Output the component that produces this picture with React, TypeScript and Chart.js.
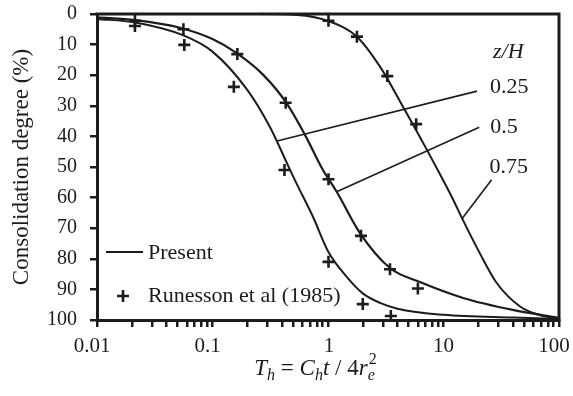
import React, { useEffect, useRef } from 'react';
import { Chart, registerables } from 'chart.js';
Chart.register(...registerables);

// ---- Data ----
const X_TICK_VALUES = [0.01, 0.1, 1, 10, 100];
const X_TICK_LABELS = ['0.01', '0.1', '1', '10', '100'];
const Y_TICK_VALUES = [0, 10, 20, 30, 40, 50, 60, 70, 80, 90, 100];

// Present solution curves (T_h, consolidation degree %)
const CURVE_025_T = [0.01, 0.0215, 0.056, 0.1, 0.2, 0.315, 0.47, 0.536, 0.746, 1.0, 1.46, 2.0, 2.82, 4.0, 10, 40, 100];
const CURVE_025_U = [1.6, 2.8, 7, 12.3, 24.8, 37, 51, 55.5, 66.5, 77.5, 86, 91.3, 94.4, 96.3, 98.3, 99.2, 99.6];

const CURVE_05_T = [0.01, 0.0215, 0.0523, 0.1, 0.162, 0.275, 0.439, 0.632, 0.905, 1.19, 1.89, 3.44, 6.26, 14.8, 39.8, 100];
const CURVE_05_U = [1.1, 2, 4.5, 8.2, 12.8, 19.9, 29.2, 39.5, 51, 58.1, 71.6, 83, 87.6, 92.8, 96.7, 99.3];

const CURVE_075_T = [0.2, 0.54, 1.04, 1.78, 2.82, 4.46, 7.19, 9.7, 12.1, 14.5, 20.7, 29, 46, 68, 100];
const CURVE_075_U = [0, 0.3, 2.5, 7.4, 17.2, 30.3, 44.4, 53.6, 60.6, 66.8, 78.3, 88, 95.6, 98.4, 99.5];

// Runesson et al (1985)
const RUN_025_T = [0.0213, 0.057, 0.153, 0.42, 1.01, 2.0, 3.5];
const RUN_025_U = [3.9, 10.1, 23.8, 51, 81, 94.8, 98.7];
const RUN_05_T = [0.0213, 0.056, 0.164, 0.43, 1.01, 1.93, 3.44, 6.0];
const RUN_05_U = [2.2, 5, 13.1, 29, 54, 72.5, 83.4, 89.7];
const RUN_075_T = [1.01, 1.78, 3.26, 5.8];
const RUN_075_U = [2.2, 7.4, 20.3, 36];

// Leader lines for the z/H labels: [far end, end on curve]
const LEADER_025_T = [19.5, 0.362];
const LEADER_025_U = [25.2, 41.5];
const LEADER_05_T = [20.4, 1.19];
const LEADER_05_U = [37.0, 58.1];
const LEADER_075_T = [26.1, 14.4];
const LEADER_075_U = [54.2, 67.0];
const LEADER_LABELS = ['0.25', '0.5', '0.75'];

const LEGEND_LABELS = ['Present', 'Runesson et al (1985)'];
const Y_TITLE = 'Consolidation degree (%)';

const INK = '#1c1c1c';
const FONT = "'Liberation Serif', 'Times New Roman', serif";

const zip = (xs: number[], ys: number[]) => xs.map((x, i) => ({ x, y: ys[i] }));

export default function App() {
  const ref = useRef<HTMLCanvasElement | null>(null);

  useEffect(() => {
    const canvas = ref.current;
    if (!canvas) return;

    const curve = (xs: number[], ys: number[], w = 2) => ({
      data: zip(xs, ys),
      borderColor: INK,
      borderWidth: w,
      pointRadius: 0,
      fill: false,
      cubicInterpolationMode: 'monotone' as const,
    });
    const marks = (xs: number[], ys: number[]) => ({
      data: zip(xs, ys),
      showLine: false,
      pointStyle: 'cross' as const,
      pointRadius: 6,
      pointBorderWidth: 2.6,
      pointBorderColor: INK,
      borderColor: INK,
    });
    const leader = (xs: number[], ys: number[]) => ({
      data: zip(xs, ys),
      borderColor: INK,
      borderWidth: 1.6,
      pointRadius: 0,
      fill: false,
      tension: 0,
    });

    const overlay = {
      id: 'overlay',
      afterDraw(chart: any) {
        const ctx = chart.ctx as CanvasRenderingContext2D;
        const { left, right, top, bottom } = chart.chartArea;
        const xs = chart.scales.x;
        const ys = chart.scales.y;
        ctx.save();
        // frame top/right
        ctx.strokeStyle = INK;
        ctx.lineWidth = 3;
        ctx.beginPath();
        ctx.moveTo(left - 1.5, top);
        ctx.lineTo(right, top);
        ctx.lineTo(right, bottom + 1.5);
        ctx.stroke();

        ctx.fillStyle = INK;
        // leader labels
        ctx.font = `22px ${FONT}`;
        ctx.textAlign = 'left';
        ctx.textBaseline = 'alphabetic';
        const ends = [
          [LEADER_025_T[0], LEADER_025_U[0], 13, 2],
          [LEADER_05_T[0], LEADER_05_U[0], 11, 6],
          [LEADER_075_T[0], LEADER_075_U[0], -2, -7],
        ];
        ends.forEach((e, i) => {
          const px = xs.getPixelForValue(e[0]);
          const py = ys.getPixelForValue(e[1]);
          ctx.fillText(LEADER_LABELS[i], px + e[2], py + e[3]);
        });
        // z/H
        {
          const px = xs.getPixelForValue(LEADER_025_T[0]) + 16;
          const py = ys.getPixelForValue(LEADER_025_U[0]) - 33;
          ctx.font = `italic 22px ${FONT}`;
          ctx.fillText('z/H', px, py);
        }

        // legend
        ctx.font = `22px ${FONT}`;
        ctx.textBaseline = 'middle';
        ctx.lineWidth = 2;
        ctx.beginPath();
        ctx.moveTo(left + 9, bottom - 68);
        ctx.lineTo(left + 46, bottom - 68);
        ctx.stroke();
        ctx.fillText(LEGEND_LABELS[0], left + 51, bottom - 67);
        ctx.lineWidth = 2.6;
        const cx = left + 26;
        const cy = bottom - 24;
        ctx.beginPath();
        ctx.moveTo(cx - 6, cy);
        ctx.lineTo(cx + 6, cy);
        ctx.moveTo(cx, cy - 6);
        ctx.lineTo(cx, cy + 6);
        ctx.stroke();
        ctx.fillText(LEGEND_LABELS[1], left + 51, bottom - 24);

        // y title
        ctx.save();
        ctx.translate(22, (top + bottom) / 2);
        ctx.rotate(-Math.PI / 2);
        ctx.textAlign = 'center';
        ctx.textBaseline = 'middle';
        ctx.font = `23px ${FONT}`;
        ctx.fillText(Y_TITLE, 0, 0);
        ctx.restore();

        // x title: T_h = C_h t / 4 r_e^2
        const big = 23;
        const small = 16;
        const pieces: { t: string; it: boolean; sz: number; dy: number; adv?: boolean }[] = [
          { t: 'T', it: true, sz: big, dy: 0 },
          { t: 'h', it: true, sz: small, dy: 5 },
          { t: ' = ', it: false, sz: big, dy: 0 },
          { t: 'C', it: true, sz: big, dy: 0 },
          { t: 'h', it: true, sz: small, dy: 5 },
          { t: 't', it: true, sz: big, dy: 0 },
          { t: ' / 4', it: false, sz: big, dy: 0 },
          { t: 'r', it: true, sz: big, dy: 0 },
          { t: 'e', it: true, sz: small, dy: 5, adv: false },
          { t: '2', it: false, sz: small, dy: -11 },
        ];
        const fontOf = (p: any) => `${p.it ? 'italic ' : ''}${p.sz}px ${FONT}`;
        let total = 0;
        pieces.forEach((p) => {
          ctx.font = fontOf(p);
          if (p.adv !== false) total += ctx.measureText(p.t).width;
        });
        let x = (left + right) / 2 - 13 - total / 2;
        const base = bottom + 55;
        ctx.textAlign = 'left';
        ctx.textBaseline = 'alphabetic';
        pieces.forEach((p) => {
          ctx.font = fontOf(p);
          ctx.fillText(p.t, x + (p.t === '2' ? 1 : 0), base + p.dy);
          if (p.adv !== false) x += ctx.measureText(p.t).width;
        });

        // x tick labels (drawn here so each can sit like the original)
        ctx.font = `21px ${FONT}`;
        ctx.textAlign = 'center';
        ctx.textBaseline = 'top';
        const nudges = [-5, -5, 1, 0, -5];
        X_TICK_VALUES.forEach((v, i) => {
          ctx.fillText(X_TICK_LABELS[i], xs.getPixelForValue(v) + nudges[i], bottom + 16);
        });
        ctx.restore();
      },
    };

    const minorTicks: number[] = [];
    for (let e = -2; e <= 1; e++) {
      for (let m = 1; m <= 9; m++) minorTicks.push(Number((m * Math.pow(10, e)).toPrecision(3)));
    }
    minorTicks.push(100);

    const chart = new Chart(canvas, {
      type: 'line',
      data: {
        datasets: [
          curve(CURVE_025_T, CURVE_025_U),
          curve(CURVE_05_T, CURVE_05_U, 2.2),
          curve(CURVE_075_T, CURVE_075_U),
          marks(RUN_025_T, RUN_025_U),
          marks(RUN_05_T, RUN_05_U),
          marks(RUN_075_T, RUN_075_U),
          leader(LEADER_025_T, LEADER_025_U),
          leader(LEADER_05_T, LEADER_05_U),
          leader(LEADER_075_T, LEADER_075_U),
        ] as any,
      },
      options: {
        animation: false,
        responsive: false,
        events: [],
        layout: { padding: { top: 14, right: 14, left: 0, bottom: 0 } },
        plugins: { legend: { display: false }, tooltip: { enabled: false } },
        scales: {
          x: {
            type: 'logarithmic',
            min: 0.01,
            max: 100,
            afterBuildTicks: (s: any) => {
              s.ticks = minorTicks.map((v) => ({ value: v }));
            },
            afterFit: (s: any) => {
              s.height = 76;
              s.paddingLeft = 0;
              s.paddingRight = 0;
            },
            border: { display: true, width: 3, color: INK },
            grid: { drawOnChartArea: false, drawTicks: true, tickLength: 7, lineWidth: 2.5, color: INK },
            ticks: {
              autoSkip: false,
              maxRotation: 0,
              padding: 6,
              color: INK,
              font: { family: FONT, size: 21 },
              callback: () => '',
            },
          },
          y: {
            type: 'linear',
            reverse: true,
            min: 0,
            max: 100,
            afterBuildTicks: (s: any) => {
              s.ticks = Y_TICK_VALUES.map((v) => ({ value: v }));
            },
            afterFit: (s: any) => {
              s.width = 97;
              s.paddingTop = 0;
              s.paddingBottom = 0;
            },
            border: { display: true, width: 3, color: INK },
            grid: { drawOnChartArea: false, drawTicks: true, tickLength: 7, lineWidth: 2.5, color: INK },
            ticks: {
              padding: 13,
              color: INK,
              font: { family: FONT, size: 20 },
              callback: (v: any) => String(v),
            },
          },
        },
      },
      plugins: [overlay],
    } as any);

    return () => chart.destroy();
  }, []);

  return (
    <div style={{ position: 'fixed', left: 0, top: 0, width: 573, height: 396, background: '#fff' }}>
      <canvas ref={ref} width={573} height={396} style={{ display: 'block' }} />
    </div>
  );
}
